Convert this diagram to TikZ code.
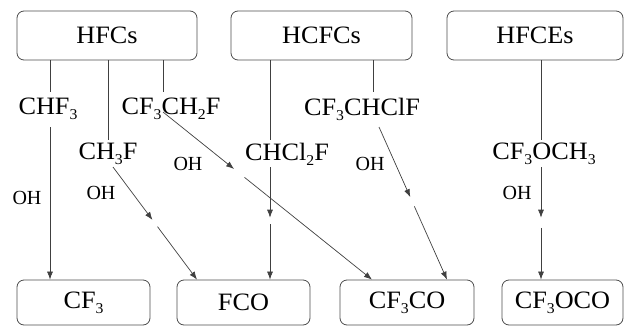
\documentclass[tikz,border=0pt]{standalone}
\usepackage{fontspec}
\setmainfont{Liberation Serif}
\usetikzlibrary{arrows.meta,calc}
\newcommand{\lo}[1]{\raisebox{-5pt}{\fontsize{15}{16}\selectfont #1}}
\newcommand{\hs}[1]{\scalebox{1.05}[1]{#1}}
\tikzset{
  box/.style={draw=black!70, line width=0.8pt, rounded corners=7pt, inner sep=0pt,
    font=\fontsize{25}{27}\selectfont},
  chem/.style={inner sep=0pt, font=\fontsize{25}{27}\selectfont},
  ohl/.style={inner sep=0pt, font=\fontsize{20}{22}\selectfont},
  ln/.style={draw=black!75, line width=0.7pt},
  ar/.style={ln, -{Latex[length=8pt,width=6pt]}}
}
\begin{document}
\begin{tikzpicture}[x=1pt,y=-1pt]
\useasboundingbox (0,0) rectangle (624,327);
% top boxes
\node[box, minimum width=180pt, minimum height=49pt] (HFCs) at (107,35.5) {\hs{HFCs}};
\node[box, minimum width=181pt, minimum height=49pt] (HCFCs) at (321.5,35.5) {\hs{HCFCs}};
\node[box, minimum width=176pt, minimum height=49pt] (HFCEs) at (535,35.5) {\hs{HFCEs}};
% bottom boxes
\node[box, minimum width=133pt, minimum height=45pt] (CFt) at (83.5,302.5) {\hs{CF\lo{3}}};
\node[box, minimum width=133pt, minimum height=45pt] (FCO) at (243.5,302.5) {\hs{FCO}};
\node[box, minimum width=134pt, minimum height=45pt] (CFtCO) at (407,302.5) {\hs{CF\lo{3}CO}};
\node[box, minimum width=121pt, minimum height=45pt] (CFtOCO) at (562.5,302.5) {\hs{CF\lo{3}OCO}};
% compounds
\node[chem] (chf) at (48,109) {\hs{CHF\lo{3}}};
\node[chem] (cfch) at (171,109) {\hs{CF\lo{3}CH\lo{2}F}};
\node[chem] (chf3) at (108,154) {\hs{CH\lo{3}F}};
\node[chem] (chcl) at (287,154) {\hs{CHCl\lo{2}F}};
\node[chem] (cfchcl) at (362,109) {\hs{CF\lo{3}CHClF}};
\node[chem] (cfoch) at (544,154) {\hs{CF\lo{3}OCH\lo{3}}};
% OH labels
\node[ohl] (oh1) at (27,198) {OH};
\node[ohl] (oh2) at (101,193) {OH};
\node[ohl] (oh3) at (188,164) {OH};
\node[ohl] (oh4) at (370,164) {OH};
\node[ohl] (oh5) at (517,193) {OH};
% connector end points
\coordinate (a1) at (50,92);  \coordinate (a2) at (50,127);
\coordinate (b1) at (108,140);
\coordinate (c1) at (163,92); \coordinate (c2) at (163,112);
\coordinate (d1) at (113,167);
\coordinate (e1) at (270,140); \coordinate (e2) at (270,167);
\coordinate (f1) at (373,92); \coordinate (f2) at (379,127);
\coordinate (g1) at (541,140); \coordinate (g2) at (541,167);
% lines from families
\draw[ln] (HFCs.south -| a1) -- (a1);
\draw[ln] (HFCs.south -| b1) -- (b1);
\draw[ln] (HFCs.south -| c1) -- (c1);
\draw[ln] (HCFCs.south -| e1) -- (e1);
\draw[ln] (HCFCs.south -| f1) -- (f1);
\draw[ln] (HFCEs.south -| g1) -- (g1);
% reaction arrows
\draw[ar] (a2) -- (CFt.north -| a2);
\coordinate (dE) at (FCO.north -| 197,0);
\draw[ar] (d1) -- ($(d1)!0.47!(dE)$);
\draw[ar] ($(d1)!0.53!(dE)$) -- (dE);
\coordinate (cE) at (CFtCO.north -| 372,0);
\draw[ar] (c2) -- ($(c2)!0.34!(cE)$);
\draw[ar] ($(c2)!0.39!(cE)$) -- (cE);
\coordinate (eE) at (FCO.north -| e2);
\draw[ar] (e2) -- ($(e2)!0.45!(eE)$);
\draw[ar] ($(e2)!0.51!(eE)$) -- (eE);
\coordinate (fE) at (CFtCO.north -| 447,0);
\draw[ar] (f2) -- ($(f2)!0.46!(fE)$);
\draw[ar] ($(f2)!0.52!(fE)$) -- (fE);
\coordinate (gE) at (CFtOCO.north -| g2);
\draw[ar] (g2) -- ($(g2)!0.45!(gE)$);
\draw[ar] ($(g2)!0.54!(gE)$) -- (gE);
\end{tikzpicture}
\end{document}
